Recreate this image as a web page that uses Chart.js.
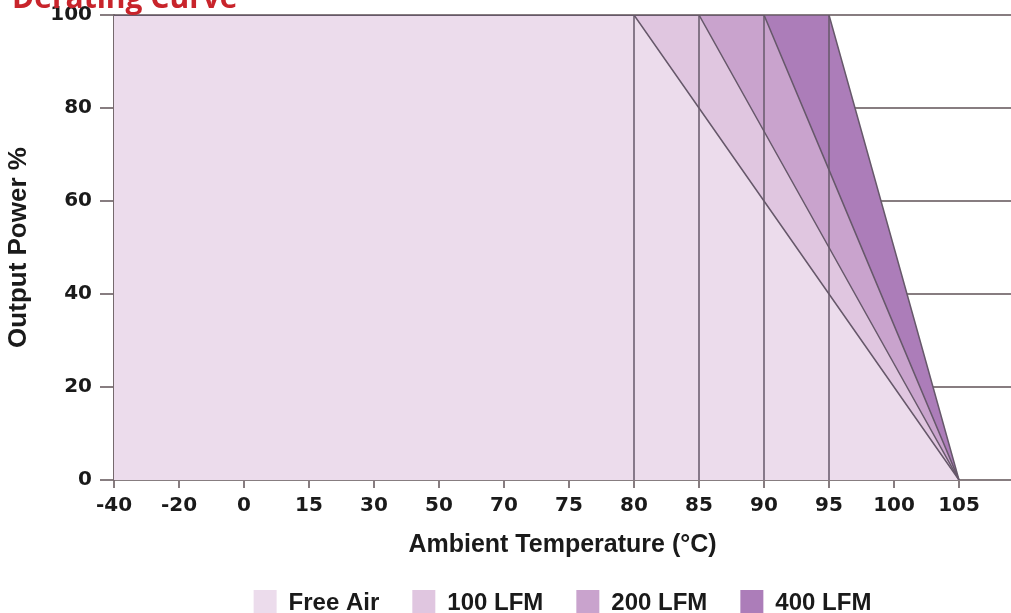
<!DOCTYPE html>
<html>
<head>
<meta charset="utf-8">
<script src="https://cdn.jsdelivr.net/npm/chart.js@4"></script>
<style>
  html, body { margin: 0; padding: 0; overflow: hidden; background: #fff; }
  #wrap { width: 1011px; height: 626px; }
</style>
</head>
<body>
<div id="wrap"><canvas id="deratingChart" width="1011" height="626"></canvas></div>
<script>
// Derating curve: output power vs ambient temperature per airflow
const tempLabels = ['-40','-20','0','15','30','50','70','75','80','85','90','95','100','105'];
const freeAir = [100,100,100,100,100,100,100,100,100,80,60,40,20,0];
const lfm100  = [100,100,100,100,100,100,100,100,100,100,75,50,25,0];
const lfm200  = [100,100,100,100,100,100,100,100,100,100,100,66.7,33.3,0];
const lfm400  = [100,100,100,100,100,100,100,100,100,100,100,100,50,0];
const seriesNames = ['Free Air','100 LFM','200 LFM','400 LFM'];
const dividerTemps = ['80','85','90','95'];
const yTicks = [0,20,40,60,80,100];

const fills = ['#ecdcec','#e0c6e0','#c9a3cd','#ac7db9'];
const edge = '#66586a';
const gridGray = '#877d80';

function toPoints(values) {
    return values.map((v, i) => ({x: i, y: v}));
}

const curves = [freeAir, lfm100, lfm200, lfm400].map((vals, k) => ({
    label: seriesNames[k],
    data: toPoints(vals),
    backgroundColor: fills[k],
    borderColor: edge,
    borderWidth: 1.5,
    fill: 'origin',
    pointRadius: 0,
    tension: 0
}));

const dividers = dividerTemps.map(t => {
    const i = tempLabels.indexOf(t);
    return {
        label: 'div' + t,
        data: [{x: i, y: yTicks[0]}, {x: i, y: yTicks[yTicks.length - 1]}],
        borderColor: edge,
        borderWidth: 1.5,
        fill: false,
        pointRadius: 0,
        order: -1
    };
});

const titlePlugin = {
    id: 'cornerTitle',
    afterDraw(chart) {
        const c = chart.ctx;
        c.save();
        c.font = 'bold 30px "Open Sans"';
        c.fillStyle = '#c8242b';
        c.textBaseline = 'alphabetic';
        c.fillText('Derating Curve', 12, 8);
        c.restore();
    }
};

const ctx = document.getElementById('deratingChart').getContext('2d');
new Chart(ctx, {
    type: 'line',
    data: { datasets: curves.concat(dividers) },
    plugins: [titlePlugin],
    options: {
        responsive: false,
        animation: false,
        layout: { autoPadding: false, padding: {top: 15, left: 0, right: 0, bottom: 0} },
        plugins: {
            filler: { drawTime: 'beforeDatasetsDraw' },
            tooltip: { enabled: false },
            legend: {
                position: 'bottom',
                fullSize: false,
                labels: {
                    boxWidth: 23,
                    boxHeight: 26,
                    padding: 33,
                    color: '#1a1a1a',
                    font: { family: '"Liberation Sans", Arial, sans-serif', size: 24, weight: 'bold' },
                    generateLabels: chart => Chart.defaults.plugins.legend.labels.generateLabels(chart)
                        .filter(l => l.datasetIndex < seriesNames.length)
                        .sort((a, b) => a.datasetIndex - b.datasetIndex)
                        .map(l => Object.assign(l, {strokeStyle: l.fillStyle, lineWidth: 0}))
                }
            }
        },
        scales: {
            x: {
                type: 'linear',
                min: 0,
                max: 13.8,
                afterFit(scale) { scale.height = 77; },
                ticks: {
                    stepSize: 1,
                    includeBounds: false,
                    autoSkip: false,
                    maxRotation: 0,
                    padding: 6,
                    color: '#1a1a1a',
                    font: { family: '"DejaVu Sans", sans-serif', size: 20, weight: 'bold' },
                    callback: v => Number.isInteger(v) && tempLabels[v] !== undefined ? tempLabels[v] : ''
                },
                grid: { drawOnChartArea: false, tickLength: 8, color: gridGray, lineWidth: 2 },
                border: { display: false },
                title: {
                    display: true,
                    text: 'Ambient Temperature (°C)',
                    color: '#1a1a1a',
                    padding: {top: 0, bottom: -3},
                    font: { family: '"Liberation Sans", Arial, sans-serif', size: 25, weight: 'bold' }
                }
            },
            y: {
                min: yTicks[0],
                max: yTicks[yTicks.length - 1],
                afterFit(scale) {
                    scale.width = 114;
                    scale.paddingTop = 0;
                    scale.paddingBottom = 0;
                },
                afterBuildTicks(scale) { scale.ticks = yTicks.map(v => ({value: v})); },
                ticks: {
                    padding: 8,
                    color: '#1a1a1a',
                    font: { family: '"DejaVu Sans", sans-serif', size: 20, weight: 'bold' }
                },
                grid: { color: gridGray, lineWidth: 2, tickLength: 14 },
                border: { color: '#75696d', width: 2 },
                title: {
                    display: true,
                    text: 'Output Power %',
                    color: '#1a1a1a',
                    padding: {top: 3, bottom: 0},
                    font: { family: '"Liberation Sans", Arial, sans-serif', size: 26, weight: 'bold' }
                }
            }
        }
    }
});
</script>
</body>
</html>
